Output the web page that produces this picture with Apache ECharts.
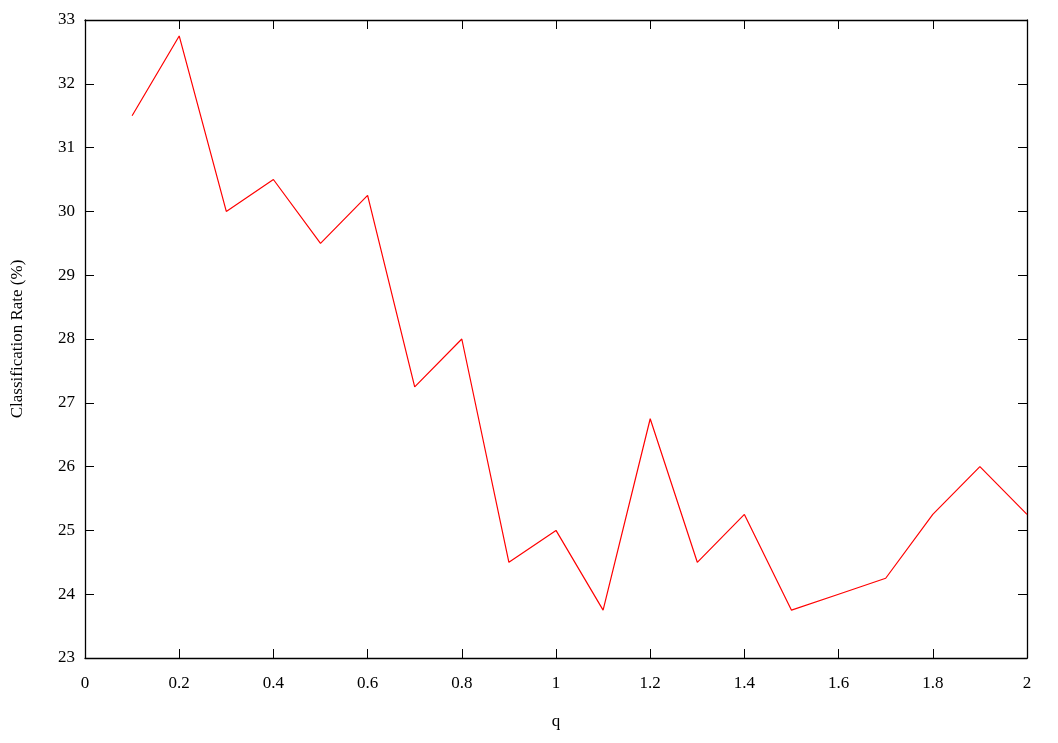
<!DOCTYPE html>
<html>
<head>
<meta charset="utf-8">
<script src="https://cdn.jsdelivr.net/npm/echarts@6/dist/echarts.min.js"></script>
<style>html,body{margin:0;padding:0;background:#fff}#c{width:1058px;height:743px}</style>
</head>
<body>
<div id="c"></div>
<script>
const qValues = [0.1,0.2,0.3,0.4,0.5,0.6,0.7,0.8,0.9,1.0,1.1,1.2,1.3,1.4,1.5,1.6,1.7,1.8,1.9,2.0];
const rates = [31.5,32.75,30.0,30.5,29.5,30.25,27.25,28.0,24.5,25.0,23.75,26.75,24.5,25.25,23.75,24.0,24.25,25.25,26.0,25.25];
const xTitle = 'q';
const yTitle = 'Classification Rate (%)';

const font = 'Liberation Serif';
const lbl = {color:'#000', fontFamily:font, fontSize:17};
const chart = echarts.init(document.getElementById('c'));
const tick = {show:true, inside:true, length:9, lineStyle:{color:'#000', width:1}};
const line = {show:true, onZero:false, lineStyle:{color:'#000', width:1.3}};
chart.setOption({
  animation:false,
  backgroundColor:'#fff',
  grid:{left:85, right:31, top:20, bottom:85},
  xAxis:[
    {type:'value', min:0, max:2, interval:0.2, position:'bottom',
     axisLine:line, axisTick:tick, splitLine:{show:false},
     axisLabel:Object.assign({margin:17}, lbl),
     name:xTitle, nameLocation:'middle', nameGap:55, nameTextStyle:lbl},
    {type:'value', min:0, max:2, interval:0.2, position:'top',
     axisLine:line, axisTick:tick, splitLine:{show:false}, axisLabel:{show:false}}
  ],
  yAxis:[
    {type:'value', min:23, max:33, interval:1, position:'left',
     axisLine:line, axisTick:tick, splitLine:{show:false},
     axisLabel:Object.assign({margin:10}, lbl),
     name:yTitle, nameLocation:'middle', nameGap:59, nameTextStyle:lbl},
    {type:'value', min:23, max:33, interval:1, position:'right',
     axisLine:line, axisTick:tick, splitLine:{show:false}, axisLabel:{show:false}}
  ],
  series:[{
    type:'line', data:qValues.map((q,i)=>[q, rates[i]]),
    showSymbol:false, symbol:'none',
    lineStyle:{color:'#ff0000', width:1.2}
  }]
});
</script>
</body>
</html>
